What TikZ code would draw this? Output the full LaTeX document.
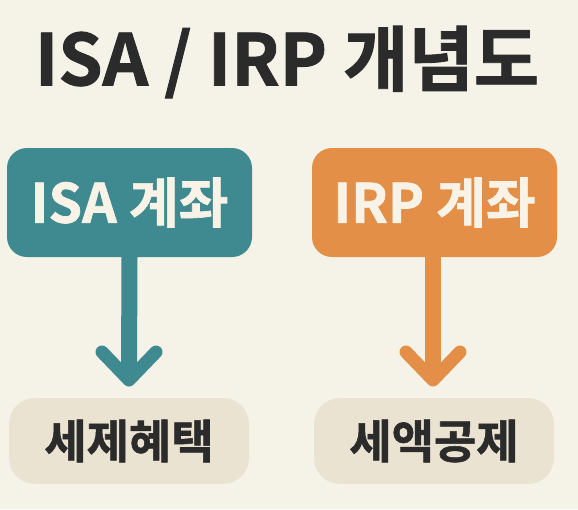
\documentclass[tikz,border=0pt]{standalone}
\usepackage{fontspec}
\newfontfamily\kr{Noto Sans CJK KR}[UprightFont=* Bold, FakeBold=1.2]
\usetikzlibrary{calc}
\definecolor{bgc}{HTML}{F5F2E8}
\definecolor{tealc}{HTML}{3F8990}
\definecolor{orangec}{HTML}{E38F47}
\definecolor{beigec}{HTML}{EBE3D1}
\definecolor{darkc}{HTML}{2B2B2B}
\definecolor{lightc}{HTML}{F8F3E6}
\begin{document}
\begin{tikzpicture}[x=1pt,y=-1pt,
  acct/.style={rounded corners=20pt, minimum width=245pt, minimum height=109pt, inner sep=0pt,
    text=lightc, font=\kr\fontsize{54}{60}\selectfont},
  benefit/.style={rounded corners=26pt, fill=beigec, minimum width=240pt, minimum height=86pt, inner sep=0pt,
    text=darkc, font=\kr\fontsize{46}{52}\selectfont},
  stem/.style={line width=16pt},
  chev/.style={line width=13pt, line cap=round, line join=round}]
\fill[bgc] (0,0) rectangle (578,509);
\useasboundingbox (0,0) rectangle (578,509);
\node[font=\kr\fontsize{71}{78}\selectfont, text=darkc] (title) at (287,62) {ISA / IRP 개념도};
\node[acct, fill=tealc] (isa) at (129.5,202.5) {ISA 계좌};
\node[acct, fill=orangec] (irp) at (434.5,202.5) {IRP 계좌};
\node[benefit] (tax1) at (129,441) {세제혜택};
\node[benefit] (tax2) at (434,441) {세액공제};
\coordinate (tipA) at (129,380);
\coordinate (tipB) at (433,380);
\draw[stem, tealc] (isa.south) -- ($(tipA)+(0,-6)$);
\draw[chev, tealc] ($(tipA)+(-27,-28)$) -- (tipA) -- ($(tipA)+(27,-28)$);
\draw[stem, orangec] (irp.south -| tipB) -- ($(tipB)+(0,-6)$);
\draw[chev, orangec] ($(tipB)+(-27,-28)$) -- (tipB) -- ($(tipB)+(27,-28)$);
\end{tikzpicture}
\end{document}
